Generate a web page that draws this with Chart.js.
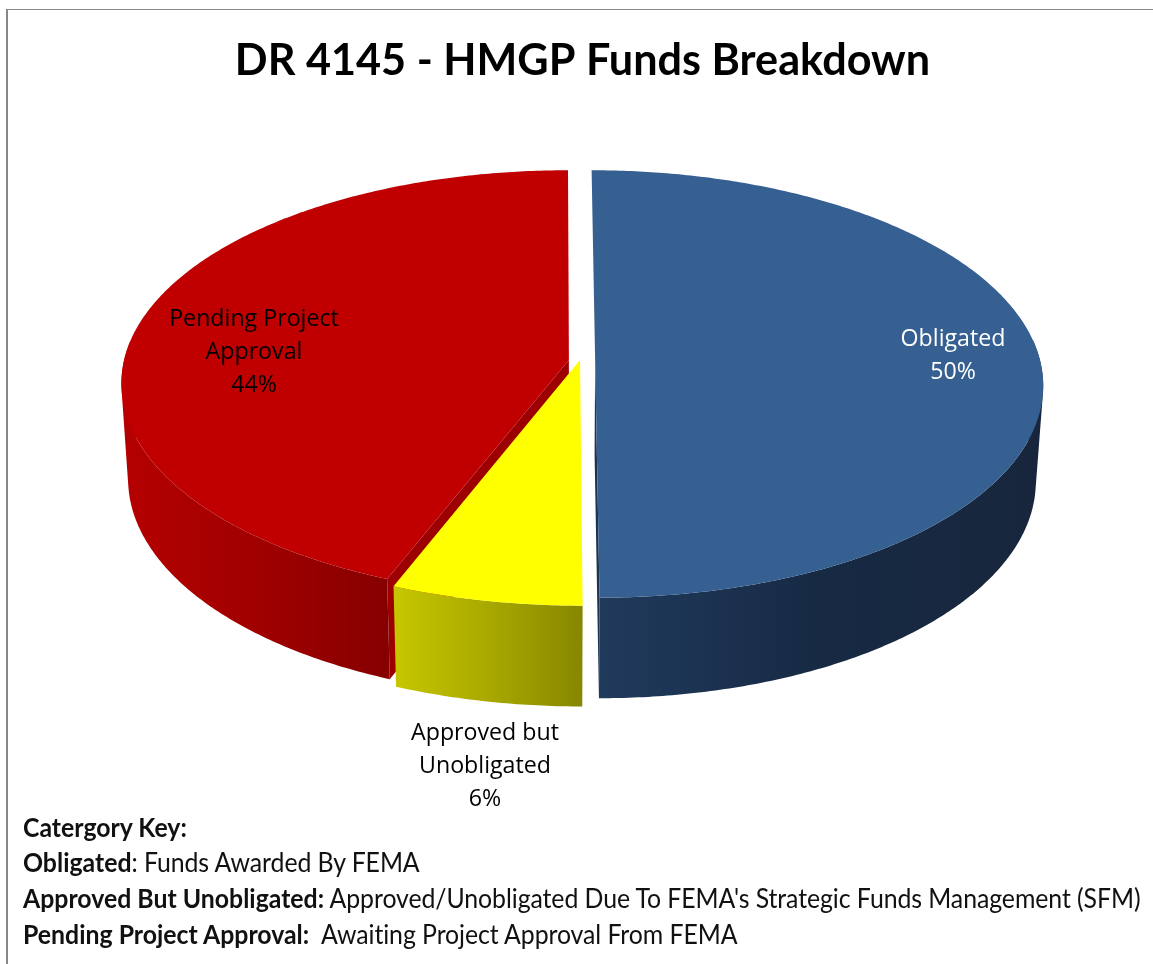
<!DOCTYPE html>
<html lang="en">
<head>
    <meta charset="UTF-8">
    <title>DR 4145 - HMGP Funds Breakdown</title>
    <script src="https://cdn.jsdelivr.net/npm/chart.js"></script>
    <style>
        body {
            margin: 0;
            background-color: #fff;
            overflow: hidden;
        }

        #frame {
            position: absolute;
            left: 6px;
            top: 9px;
            width: 1147px;
            height: 955px;
            border-left: 2px solid #888;
            border-top: 1px solid #888;
            box-sizing: border-box;
        }

        #chartContainer {
            position: absolute;
            left: 0;
            top: 0;
            width: 1153px;
            height: 964px;
        }

        .key {
            position: absolute;
            left: 23px;
            font-family: 'Lato', sans-serif;
            font-size: 27px;
            line-height: 36px;
            color: #111;
            white-space: pre;
            letter-spacing: -0.08px;
            transform: scaleX(0.92);
            transform-origin: left center;
        }

        .key b {
            font-weight: 700;
            letter-spacing: 0;
        }
    </style>
</head>
<body>

    <div id="frame"></div>
    <div id="chartContainer">
        <canvas id="myChart" width="1153" height="964"></canvas>
    </div>

    <div class="key" style="top: 809px;"><b>Catergory Key:</b></div>
    <div class="key" style="top: 844px;"><b>Obligated</b>: Funds Awarded By FEMA</div>
    <div class="key" style="top: 880px;"><b>Approved But Unobligated:</b> Approved/Unobligated Due To FEMA's Strategic Funds Management (SFM)</div>
    <div class="key" style="top: 916px;"><b>Pending Project Approval:</b>  Awaiting Project Approval From FEMA</div>

    <script>
        const categories = ['Obligated', 'Approved but Unobligated', 'Pending Project Approval'];
        const percents = [50, 6, 44];
        const labelLines = [['Obligated'], ['Approved but', 'Unobligated'], ['Pending Project', 'Approval']];

        const topColors = ['#366092', '#ffff00', '#c00000'];
        const wallColors = [['#203a5c', '#172a44', '#17263c'], ['#c6c600', '#a8a800', '#878700'], ['#b40000', '#a00000', '#860000']];
        const innerWallColors = ['#1c3352', null, '#9c0000'];
        const labelColors = ['#fff', '#000', '#000'];
        const labelPlaces = [[953, 339], [485, 733], [254, 319]];

        // pie plane seen in perspective, top face and bottom face
        const topFace = { cx: 560, cy: 360, rx: 444.8, ry: 211 };
        const bottomFace = { cx: 560, cy: 455, rx: 438, ry: 216 };
        const tilt = 0.112;
        const shifts = [[0.079, 0], [0.045, 0], [0.02, 0]];
        const radii = [1, 1.03, 1];

        function project(face, shift, r, angle) {
            const x = shift[0] + r * Math.cos(angle);
            const y = shift[1] + r * Math.sin(angle);
            const w = 1 - tilt * y;
            return [face.cx + face.rx * x / w, face.cy + face.ry * y / w];
        }

        function sliceAngles(arc) {
            const angles = [];
            const steps = Math.ceil((arc.endAngle - arc.startAngle) / 0.01);
            for (let i = 0; i <= steps; i++) {
                angles.push(arc.startAngle + (arc.endAngle - arc.startAngle) * i / steps);
            }
            return angles;
        }

        function addPolygon(ctx, points) {
            points.forEach((p, i) => (i ? ctx.lineTo(p[0], p[1]) : ctx.moveTo(p[0], p[1])));
            ctx.closePath();
        }

        function fillPolygon(ctx, points, fill) {
            ctx.beginPath();
            addPolygon(ctx, points);
            ctx.fillStyle = fill;
            ctx.fill();
        }

        // all quads wound the same way, or nonzero fill would cancel where they overlap
        function sameWinding(points) {
            let area = 0;
            points.forEach((p, i) => {
                const q = points[(i + 1) % points.length];
                area += p[0] * q[1] - q[0] * p[1];
            });
            return area < 0 ? points.reverse() : points;
        }

        const pie3d = {
            id: 'pie3d',
            beforeDatasetsDraw(chart) {
                const ctx = chart.ctx;
                const arcs = chart.getDatasetMeta(0).data;

                // back to front: red, yellow, blue
                [2, 1, 0].forEach(i => {
                    const shift = shifts[i];
                    const r = radii[i];
                    const angles = sliceAngles(arcs[i]);
                    const front = angles.filter(a => Math.sin(a) > -0.1);
                    const xs = front.map(a => project(bottomFace, shift, r, a)[0]);

                    if (innerWallColors[i]) {
                        // cut face of the slice, only a strip of it shows
                        const corner = i === 0 ? arcs[i].endAngle : arcs[i].startAngle;
                        fillPolygon(ctx, [
                            project(topFace, shift, 0, corner),
                            project(topFace, shift, r, corner),
                            project(bottomFace, shift, r, corner),
                            project(bottomFace, shift, 0, corner)
                        ], innerWallColors[i]);
                    }

                    const wall = ctx.createLinearGradient(Math.min(...xs), 0, Math.max(...xs), 0);
                    wallColors[i].forEach((c, n) => wall.addColorStop(n / 2, c));

                    // one path for the whole wall so no seams show between the quads
                    ctx.beginPath();
                    for (let n = 0; n < front.length - 1; n++) {
                        addPolygon(ctx, sameWinding([
                            project(topFace, shift, r, front[n]),
                            project(topFace, shift, r, front[n + 1]),
                            project(bottomFace, shift, r, front[n + 1]),
                            project(bottomFace, shift, r, front[n])
                        ]));
                    }
                    ctx.fillStyle = wall;
                    ctx.fill('nonzero');

                    const rim = angles.map(a => project(topFace, shift, r, a));
                    fillPolygon(ctx, [project(topFace, shift, 0, 0)].concat(rim), topColors[i]);
                });

                ctx.textAlign = 'center';
                ctx.textBaseline = 'middle';
                ctx.font = "23.2px 'Open Sans'";
                percents.forEach((value, i) => {
                    ctx.fillStyle = labelColors[i];
                    labelLines[i].concat(value + '%').forEach((line, n) => {
                        ctx.fillText(line, labelPlaces[i][0], labelPlaces[i][1] + n * 33);
                    });
                });
                return false;
            }
        };

        new Chart(document.getElementById('myChart'), {
            type: 'pie',
            data: {
                labels: categories,
                datasets: [{
                    data: percents,
                    backgroundColor: topColors
                }]
            },
            options: {
                responsive: false,
                animation: false,
                layout: { padding: { left: 12 } },
                plugins: {
                    legend: { display: false },
                    tooltip: { enabled: false },
                    title: {
                        display: true,
                        text: 'DR 4145 - HMGP Funds Breakdown',
                        color: '#000',
                        font: { family: 'Lato', size: 43.2, weight: 'bold' },
                        padding: { top: 35, bottom: 10 }
                    }
                }
            },
            plugins: [pie3d]
        });
    </script>
</body>
</html>
